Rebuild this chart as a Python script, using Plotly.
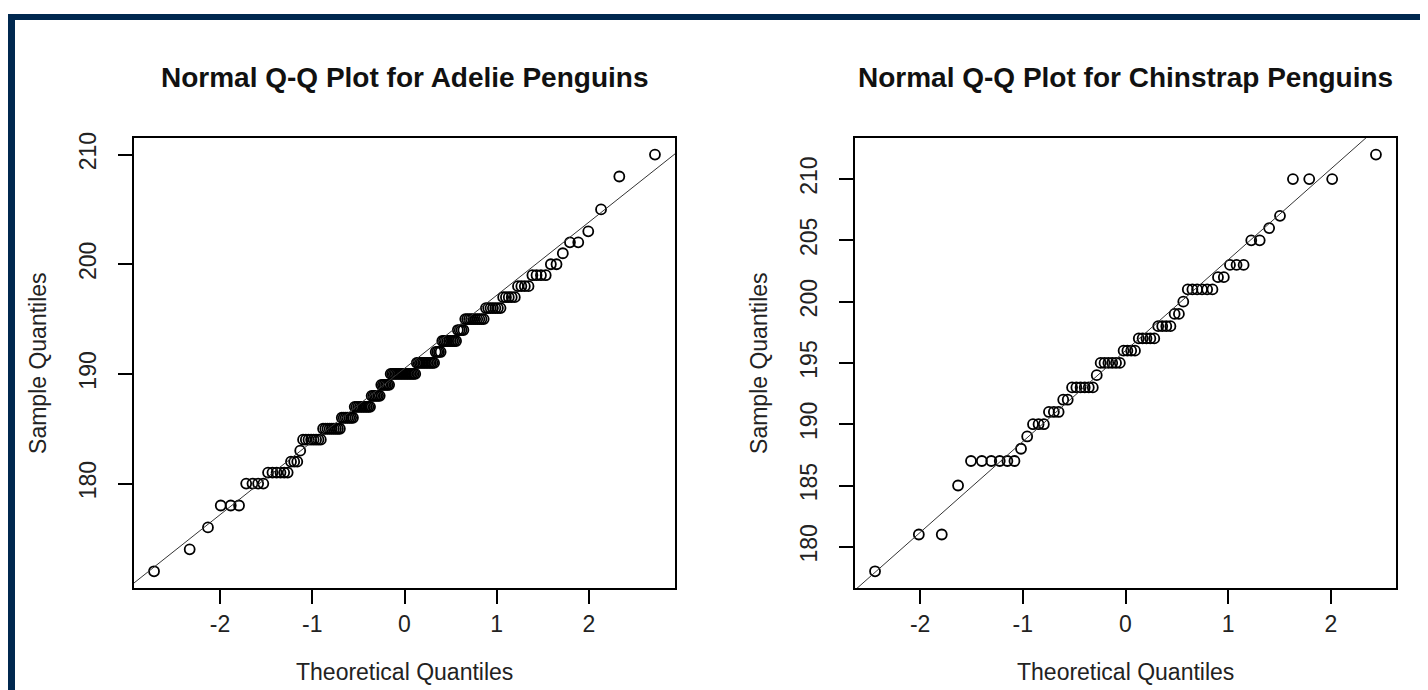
import numpy as np
import plotly.graph_objects as go
from statistics import NormalDist

# ---- data (flipper length, mm) ----
adelie_values = [172, 174, 176, 178, 180, 181, 182, 183, 184, 185, 186, 187, 188, 189, 190,
                 191, 192, 193, 194, 195, 196, 197, 198, 199, 200, 201, 202, 203, 205, 208, 210]
adelie_counts = [1, 1, 1, 3, 4, 6, 3, 1, 8, 9, 7, 10, 6, 6, 17,
                 12, 4, 9, 4, 10, 7, 5, 4, 4, 2, 1, 2, 1, 1, 1, 1]

chinstrap_values = [178, 181, 185, 187, 188, 189, 190, 191, 192, 193, 194, 195, 196, 197,
                    198, 199, 200, 201, 202, 203, 205, 206, 207, 210, 212]
chinstrap_counts = [1, 2, 1, 6, 1, 1, 3, 3, 2, 6, 1, 6, 4, 5,
                    4, 2, 1, 6, 2, 3, 2, 1, 1, 3, 1]

titles = ["Normal Q-Q Plot for Adelie Penguins", "Normal Q-Q Plot for Chinstrap Penguins"]
x_label = "Theoretical Quantiles"
y_label = "Sample Quantiles"
x_ticks = [-2, -1, 0, 1, 2]
adelie_y_ticks = [180, 190, 200, 210]
chinstrap_y_ticks = [180, 185, 190, 195, 200, 205, 210]

W, H = 1428, 690
BG = "#00284f"
FONT = "Liberation Sans, Arial, Helvetica, sans-serif"


def ppoints(n):
    a = 3 / 8 if n <= 10 else 0.5
    return [(i + 1 - a) / (n + 1 - 2 * a) for i in range(n)]


def qq(values, counts):
    y = np.sort(np.repeat(values, counts)).astype(float)
    nd = NormalDist()
    x = np.array([nd.inv_cdf(p) for p in ppoints(len(y))])
    # qqline through the quartiles (R default, type 7)
    y1, y2 = np.percentile(y, [25, 75])
    x1, x2 = nd.inv_cdf(0.25), nd.inv_cdf(0.75)
    slope = (y2 - y1) / (x2 - x1)
    intercept = y1 - slope * x1
    return x, y, slope, intercept


def ext(lo, hi):
    d = (hi - lo) * 0.04
    return [lo - d, hi + d]


fig = go.Figure()

panels = [
    (adelie_values, adelie_counts, adelie_y_ticks, (126, 667)),
    (chinstrap_values, chinstrap_counts, chinstrap_y_ticks, (847, 1388)),
]
top_px, bot_px = 125, 579
ydom = [1 - bot_px / H, 1 - top_px / H]

for k, (vals, cnts, yt, (lpx, rpx)) in enumerate(panels):
    x, y, slope, intercept = qq(vals, cnts)
    xr = ext(x.min(), x.max())
    yr = ext(y.min(), y.max())
    xa = "x" if k == 0 else "x2"
    ya = "y" if k == 0 else "y2"
    fig.add_trace(go.Scatter(
        x=x, y=y, mode="markers", xaxis=xa, yaxis=ya,
        marker=dict(symbol="circle-open", size=10, color="black", line=dict(width=1.8, color="black")),
        showlegend=False, hoverinfo="x+y"))
    fig.add_trace(go.Scatter(
        x=xr, y=[intercept + slope * xr[0], intercept + slope * xr[1]],
        mode="lines", xaxis=xa, yaxis=ya, line=dict(color="#333333", width=1),
        showlegend=False, hoverinfo="skip"))

    axis_common = dict(showline=True, linecolor="black", linewidth=2, mirror=True,
                       ticks="outside", ticklen=14, tickwidth=2, tickcolor="black",
                       showgrid=False, zeroline=False,
                       tickfont=dict(family=FONT, size=23, color="#222222"))
    xkey = "xaxis" if k == 0 else "xaxis2"
    ykey = "yaxis" if k == 0 else "yaxis2"
    fig.update_layout(**{
        xkey: dict(domain=[lpx / W, rpx / W], range=xr, tickvals=x_ticks,
                   ticktext=[str(t) for t in x_ticks], anchor=ya, ticklabelstandoff=0, **axis_common),
        ykey: dict(domain=ydom, range=yr, tickvals=yt, ticktext=[str(t) for t in yt],
                   tickangle=-90, anchor=xa, ticklabelstandoff=13, **axis_common),
    })

    cx = (lpx + rpx) / 2
    fig.add_annotation(text="<b>" + titles[k] + "</b>", x=cx / W, y=1 - 64 / H,
                       xref="paper", yref="paper", showarrow=False, xanchor="center", yanchor="middle",
                       font=dict(family=FONT, size=28, color="#111111"))
    fig.add_annotation(text=x_label, x=cx / W, y=1 - 664 / H,
                       xref="paper", yref="paper", showarrow=False, xanchor="center", yanchor="middle",
                       font=dict(family=FONT, size=23, color="#222222"))
    fig.add_annotation(text=y_label, x=(lpx - 96) / W, y=1 - ((top_px + bot_px) / 2) / H,
                       xref="paper", yref="paper", showarrow=False, xanchor="center", yanchor="middle",
                       textangle=-90, font=dict(family=FONT, size=23, color="#222222"))

# dark frame (left and top strips)
fig.add_shape(type="rect", xref="paper", yref="paper", x0=0, x1=7 / W, y0=0, y1=1,
              fillcolor=BG, line=dict(width=0), layer="below")
fig.add_shape(type="rect", xref="paper", yref="paper", x0=0, x1=1, y0=1 - 6 / H, y1=1,
              fillcolor=BG, line=dict(width=0), layer="below")

fig.update_layout(width=W, height=H, autosize=False,
                  margin=dict(l=0, r=0, t=0, b=0),
                  paper_bgcolor="white", plot_bgcolor="white")

fig.write_html("out.html")
